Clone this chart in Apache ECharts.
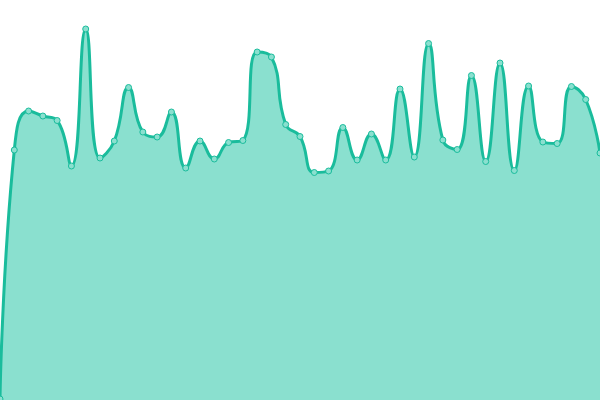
<!DOCTYPE html>
<html><head><meta charset="utf-8">
<script src="https://cdn.jsdelivr.net/npm/echarts@6/dist/echarts.min.js"></script>
<style>html,body{margin:0;padding:0;background:#fff}#c{width:600px;height:400px}</style>
</head><body><div id="c"></div>
<script>
var categories = [];
for (var i = 0; i < 43; i++) categories.push(String(i + 1));
var values = [1, 250, 289, 284, 279.5, 234, 371, 242, 259, 312.5, 268, 263, 288, 232, 259, 241, 257.5, 259.5, 348, 343, 275.5, 263.5, 227.5, 229, 272.5, 240, 266, 240, 311, 243, 356.5, 260, 250.5, 324.5, 238.5, 337, 229.5, 314, 258, 256.5, 313.5, 300.5, 247];
var chart = echarts.init(document.getElementById('c'));
chart.setOption({
  animation: false,
  grid: {left: 0, right: 0, top: 0, bottom: 0},
  xAxis: {type: 'category', data: categories, boundaryGap: false, show: false},
  yAxis: {type: 'value', min: 0, max: 400, show: false},
  series: [{
    type: 'line', data: values, smooth: true,
    symbol: 'circle', symbolSize: 6,
    lineStyle: {color: '#1abc9c', width: 3},
    itemStyle: {color: '#8ae0cf', borderColor: '#1abc9c', borderWidth: 1},
    areaStyle: {color: '#8ae0cf', opacity: 1}
  }]
});
</script></body></html>
